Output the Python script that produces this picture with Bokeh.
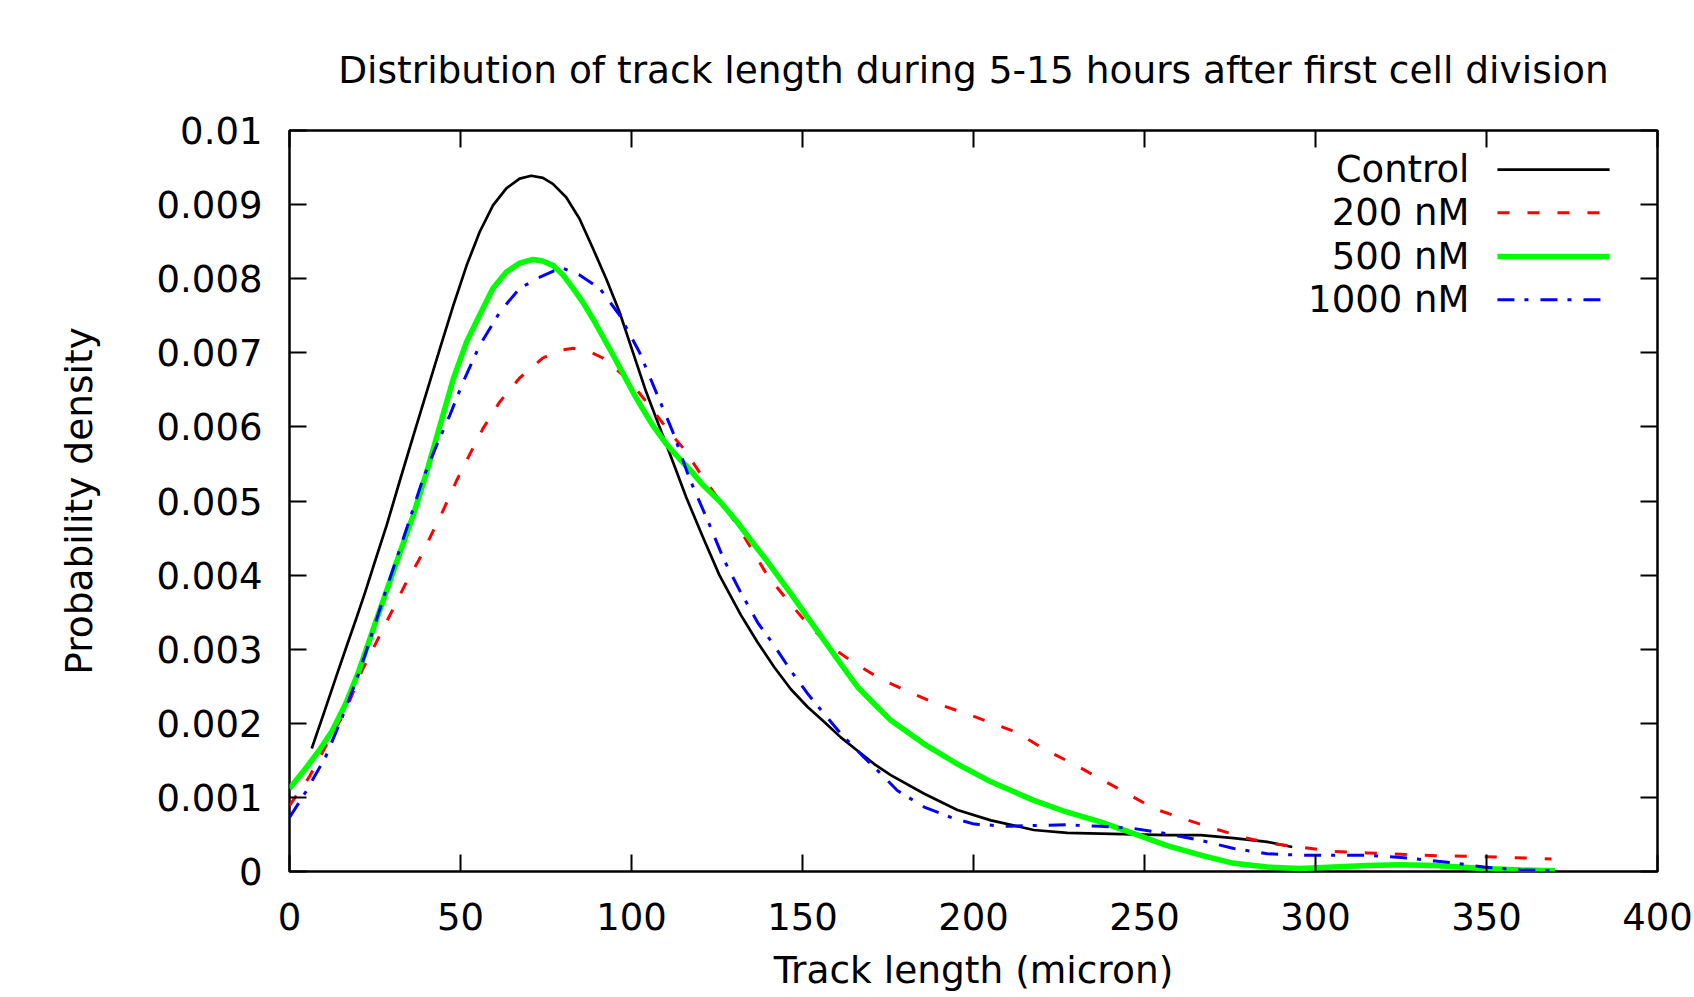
from bokeh.plotting import figure
from bokeh.models import Range1d, FixedTicker, LinearAxis, PrintfTickFormatter, Label, Arrow
from bokeh.embed import file_html
from bokeh.resources import INLINE

FONT = "DejaVu Sans"

title_text = "Distribution of track length during 5-15 hours after first cell division"
x_label = "Track length (micron)"
y_label = "Probability density"

x_ticks = [0, 50, 100, 150, 200, 250, 300, 350, 400]
y_ticks = [0, 0.001, 0.002, 0.003, 0.004, 0.005, 0.006, 0.007, 0.008, 0.009, 0.01]

series_names = ["Control", "200 nM", "500 nM", "1000 nM"]

control_x = [6.5, 10.0, 13.8, 17.0, 19.5, 22.2, 25.1, 28.4, 32.3, 36.2, 40.1, 44.0, 47.9, 51.8,
             55.6, 59.5, 63.4, 67.3, 70.7, 74.1, 77.0, 80.9, 84.8, 88.7, 92.6, 96.5, 100.4,
             104.3, 108.2, 112.1, 116.0, 120.8, 125.7, 132.0, 136.9, 141.7, 146.6, 151.5,
             156.3, 161.2, 166.1, 171.0, 175.8, 185.6, 195.3, 205.1, 213.8, 217.6, 227.4,
             237.1, 246.9, 256.6, 266.4, 276.1, 285.9, 293.2]
control_y = [0.00166, 0.00213, 0.00265, 0.00308, 0.00341, 0.00378, 0.00420, 0.00467, 0.00528,
             0.00588, 0.00647, 0.00706, 0.00764, 0.00818, 0.00863, 0.00899, 0.00922, 0.00935,
             0.00939, 0.00936, 0.00928, 0.00910, 0.00881, 0.00841, 0.00800, 0.00755, 0.00701,
             0.00647, 0.00600, 0.00553, 0.00505, 0.00452, 0.00400, 0.00346, 0.00309, 0.00276,
             0.00246, 0.00222, 0.00202, 0.00181, 0.00163, 0.00145, 0.00130, 0.00105, 0.00083,
             0.00069, 0.00060, 0.00056, 0.00052, 0.00051, 0.00050, 0.00049, 0.00049, 0.00045,
             0.00040, 0.00033]

nm200_x = [0, 5.7, 11.5, 16.4, 21.2, 26.1, 31.0, 33.9, 37.8, 41.0, 44.9, 48.8, 52.7, 56.6,
           61.5, 67.3, 74.1, 78.5, 83.0, 87.0, 91.6, 95.5, 99.4, 104.3, 111.1, 115.0, 120.0,
           125.7, 131.0, 135.4, 139.8, 145.8, 151.3, 157.8, 164.9, 172.4, 180.7, 189.0, 197.3,
           205.6, 212.4, 221.5, 229.3, 237.1, 245.0, 252.7, 261.5, 270.3, 279.0, 286.8, 295.6,
           305.4, 315.1, 321.9, 329.8, 349.2, 369.0]
nm200_y = [0.00089, 0.00127, 0.00177, 0.00217, 0.00271, 0.00316, 0.00361, 0.00388, 0.00420,
           0.00450, 0.00487, 0.00527, 0.00563, 0.00598, 0.00634, 0.00666, 0.00693, 0.00703,
           0.00706, 0.00703, 0.00693, 0.00678, 0.00662, 0.00634, 0.00593, 0.00572, 0.00538,
           0.00501, 0.00467, 0.00433, 0.00399, 0.00365, 0.00335, 0.00305, 0.00282, 0.00261,
           0.00243, 0.00227, 0.00214, 0.00200, 0.00188, 0.00163, 0.00145, 0.00125, 0.00105,
           0.00085, 0.00071, 0.00058, 0.00046, 0.00038, 0.00033, 0.00027, 0.00025, 0.00024,
           0.00022, 0.00020, 0.00017]

nm500_x = [0, 4.7, 8.6, 12.5, 16.4, 20.3, 24.7, 28.1, 31.5, 36.2, 40.1, 44.0, 47.9, 51.8, 55.6,
           59.5, 63.4, 67.3, 71.2, 74.0, 77.0, 80.0, 82.9, 85.8, 88.7, 91.6, 94.6, 97.5, 100.4,
           103.3, 106.2, 110.0, 114.0, 117.5, 120.8, 125.7, 130.5, 135.4, 139.8, 146.6, 151.5,
           156.3, 161.2, 166.1, 171.0, 175.8, 185.6, 195.3, 205.1, 217.6, 227.4, 237.1, 246.9,
           256.6, 266.4, 276.1, 285.9, 295.6, 305.4, 315.1, 324.9, 334.7, 342.0, 349.2, 360.0,
           370.0]
nm500_y = [0.00112, 0.00139, 0.00163, 0.00190, 0.00226, 0.00271, 0.00330, 0.00375, 0.00420,
           0.00481, 0.00539, 0.00602, 0.00665, 0.00715, 0.00751, 0.00787, 0.00809, 0.00821,
           0.00826, 0.00824, 0.00818, 0.00805, 0.00787, 0.00768, 0.00746, 0.00722, 0.00697,
           0.00672, 0.00647, 0.00624, 0.00602, 0.00578, 0.00557, 0.00540, 0.00522, 0.00500,
           0.00474, 0.00444, 0.00418, 0.00375, 0.00343, 0.00312, 0.00280, 0.00249, 0.00226,
           0.00204, 0.00172, 0.00145, 0.00121, 0.00096, 0.00080, 0.00067, 0.00051, 0.00035,
           0.00022, 0.00011, 0.00006, 0.00004, 0.00006, 0.00008, 0.00009, 0.00008, 0.00006,
           0.00004, 0.00002, 0.00001]

nm1000_x = [0, 4.7, 10.5, 15.4, 19.3, 22.2, 25.1, 28.1, 31.3, 35.2, 39.1, 43.0, 46.9, 50.8,
            55.6, 61.5, 67.3, 73.2, 77.0, 80.0, 84.8, 90.7, 96.5, 102.3, 107.2, 112.1, 116.9,
            122.8, 127.1, 132.0, 136.9, 141.7, 146.6, 151.5, 156.3, 161.2, 168.0, 172.9, 177.8,
            185.6, 193.4, 200.2, 209.9, 217.6, 227.4, 237.1, 246.9, 256.6, 266.4, 276.1, 285.9,
            295.6, 305.4, 315.1, 324.9, 339.5, 349.2, 360.0, 370.0]
nm1000_y = [0.00073, 0.00107, 0.00154, 0.00208, 0.00255, 0.00294, 0.00335, 0.00378, 0.00422,
            0.00476, 0.00531, 0.00575, 0.00616, 0.00661, 0.00710, 0.00755, 0.00787, 0.00802,
            0.00810, 0.00814, 0.00805, 0.00787, 0.00751, 0.00701, 0.00647, 0.00593, 0.00531,
            0.00468, 0.00420, 0.00376, 0.00336, 0.00305, 0.00271, 0.00240, 0.00213, 0.00186,
            0.00154, 0.00132, 0.00109, 0.00087, 0.00073, 0.00064, 0.00061, 0.00062, 0.00063,
            0.00061, 0.00058, 0.00051, 0.00042, 0.00031, 0.00024, 0.00022, 0.00022, 0.00022,
            0.00019, 0.00012, 0.00006, 0.00002, 0.00001]

series_x = [control_x, nm200_x, nm500_x, nm1000_x]
series_y = [control_y, nm200_y, nm500_y, nm1000_y]
series_colors = ["#000000", "#ff0000", "#00ff00", "#0000ff"]
series_widths = [2.7, 3, 5.5, 3]
series_dashes = ["solid", "12 18", "solid", "17 10 4 12"]

p = figure(frame_width=1368, frame_height=741,
           min_border_left=289, min_border_right=37, min_border_top=130, min_border_bottom=126,
           x_range=Range1d(0, 400), y_range=Range1d(0, 0.01),
           output_backend="svg", toolbar_location=None, title=title_text,
           background_fill_color="white", border_fill_color="white")

p.grid.visible = False
p.outline_line_color = "black"
p.outline_line_width = 2.5
p.title.text_font = FONT
p.title.text_font_size = "37.5px"
p.title.text_font_style = "normal"
p.title.text_color = "black"
p.title.align = "center"
p.title.standoff = 77


def style_axis(ax, ticks, show):
    ax.ticker = FixedTicker(ticks=ticks)
    ax.axis_line_color = None
    ax.major_tick_in = 17
    ax.major_tick_out = 0
    ax.major_tick_line_width = 2
    ax.major_tick_line_color = "black"
    ax.minor_tick_line_color = None
    ax.major_label_text_font = FONT
    ax.axis_label_text_font = FONT
    ax.axis_label_text_font_size = "37.5px"
    ax.axis_label_text_font_style = "normal"
    ax.axis_label_text_color = "black"
    if show:
        ax.major_label_text_font_size = "37px"
        ax.major_label_text_color = "black"
    else:
        ax.major_label_text_font_size = "1px"
        ax.major_label_text_color = None
        ax.major_label_standoff = 0


xa = p.xaxis[0]
ya = p.yaxis[0]
style_axis(xa, x_ticks, True)
style_axis(ya, y_ticks, True)
ya.formatter = PrintfTickFormatter(format="%g")
xa.major_label_standoff = 31
ya.major_label_standoff = 27
xa.axis_label = x_label
ya.axis_label = y_label
xa.axis_label_standoff = 15
ya.axis_label_standoff = 53

top_ax = LinearAxis()
style_axis(top_ax, x_ticks, False)
p.add_layout(top_ax, "above")
right_ax = LinearAxis()
style_axis(right_ax, y_ticks, False)
p.add_layout(right_ax, "right")

for xs, ys, c, w, d in zip(series_x, series_y, series_colors, series_widths, series_dashes):
    p.line(xs, ys, line_color=c, line_width=w, line_dash=d, line_join="round")

# legend (label on the left, sample on the right, gnuplot style)
legend_text_x = 345.0
legend_line_x0 = 353.2
legend_line_x1 = 386.0
legend_rows = [0.009473, 0.008889, 0.008299, 0.007715]
for name, c, w, d, yy in zip(series_names, series_colors, series_widths, series_dashes, legend_rows):
    p.add_layout(Label(x=legend_text_x, y=yy, text=name, text_align="right",
                       text_baseline="middle", text_font=FONT, text_font_size="37px",
                       text_color="black"))
    p.add_layout(Arrow(end=None, x_start=legend_line_x0, y_start=yy, x_end=legend_line_x1,
                       y_end=yy, line_color=c, line_width=w, line_dash=d))

open("out.html", "w").write(file_html(p, INLINE))
